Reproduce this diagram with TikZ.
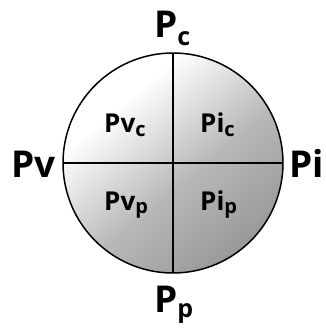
\documentclass[tikz,border=0pt]{standalone}
\usepackage{fontspec}
\setmainfont{Open Sans}
\pgfdeclareverticalshading{quadshade}{100bp}{color(0bp)=(black!42); color(25bp)=(black!40); color(45bp)=(black!28); color(58bp)=(black!12); color(68bp)=(white); color(100bp)=(white)}
\begin{document}
\begin{tikzpicture}[x=1pt,y=-1pt,
  big/.style={anchor=base west,inner sep=0pt,font=\bfseries\fontsize{37}{40}\selectfont},
  small/.style={anchor=base west,inner sep=0pt,font=\bfseries\fontsize{26}{29}\selectfont},
  divider/.style={line width=1.2pt,black}]
\useasboundingbox (0,0) rectangle (325,330);
\coordinate (c) at (173,163);
\shade[shading=quadshade, shading angle=40] (c) circle[radius=110];
\draw[line width=1.5pt] (c) circle[radius=110];
\coordinate (t) at (173,53);
\coordinate (b) at (173,273);
\coordinate (l) at (63,163);
\coordinate (r) at (283,163);
\draw[divider] (t) -- (b);
\draw[divider] (l) -- (r);
\node[big] (pc) at (154,37) {P\raisebox{-8pt}{\fontsize{25}{28}\selectfont c}};
\node[big] (pp) at (154,312) {P\raisebox{-5pt}{\fontsize{25}{28}\selectfont p}};
\node[big] (pv) at (11,177) {Pv};
\node[big, anchor=base east] (pi) at (324,177) {Pi};
\node[small] (pvc) at (104,132) {Pv\raisebox{-4pt}{\fontsize{20}{22}\selectfont c}};
\node[small] (pic) at (200,132) {Pi\raisebox{-4pt}{\fontsize{20}{22}\selectfont c}};
\node[small] (pvp) at (104,210) {Pv\raisebox{-3pt}{\fontsize{20}{22}\selectfont p}};
\node[small] (pip) at (200,210) {Pi\raisebox{-3pt}{\fontsize{20}{22}\selectfont p}};
\end{tikzpicture}
\end{document}
